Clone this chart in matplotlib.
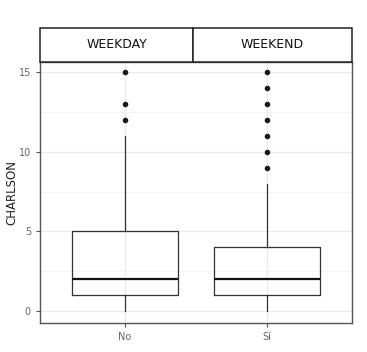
import matplotlib
matplotlib.use("Agg")
import matplotlib.pyplot as plt
from matplotlib.patches import Rectangle

# data
groups = ["No", "Sí"]
header_labels = ["WEEKDAY", "WEEKEND"]
whis_lo = [0, 0]
q1 = [1, 1]
medians = [2, 2]
q3 = [5, 4]
whis_hi = [11, 8]
outliers = [[12, 13, 15], [9, 10, 11, 12, 13, 14, 15]]

W, H = 367, 352
fig = plt.figure(figsize=(W / 100, H / 100), dpi=100)

# main panel
ax = fig.add_axes([40 / W, (H - 323) / H, 312 / W, (323 - 62) / H])
stats = []
for i, g in enumerate(groups):
    stats.append(dict(label=g, whislo=whis_lo[i], q1=q1[i], med=medians[i],
                      q3=q3[i], whishi=whis_hi[i], fliers=outliers[i]))

ax.bxp(stats, positions=[1, 2], widths=0.75, showcaps=False,
       boxprops=dict(color="#333333", linewidth=0.9),
       whiskerprops=dict(color="#333333", linewidth=0.9),
       medianprops=dict(color="#111111", linewidth=1.6),
       flierprops=dict(marker="o", markerfacecolor="#1a1a1a",
                       markeredgecolor="#1a1a1a", markersize=3.0))

ax.set_xlim(0.4, 2.6)
ax.set_ylim(-0.75, 15.63)
ax.set_yticks([0, 5, 10, 15])
ax.set_yticks([2.5, 7.5, 12.5], minor=True)
ax.grid(True, which="major", color="#ebebeb", linewidth=0.9)
ax.grid(True, which="minor", axis="y", color="#f3f3f3", linewidth=0.6)
ax.set_axisbelow(True)
for s in ax.spines.values():
    s.set_color("#555555")
    s.set_linewidth(1.0)
ax.tick_params(axis="both", which="major", colors="#555555", labelcolor="#666666",
               labelsize=7, length=3, width=0.8)
ax.tick_params(axis="y", which="minor", length=0)
ax.set_ylabel("CHARLSON", fontsize=8.5, color="#222222")
ax.yaxis.set_label_coords(-22 / 312, 0.5)

# header strip with two cells
hx = fig.add_axes([40 / W, (H - 62) / H, 312 / W, (62 - 28) / H])
hx.set_xlim(0, 312)
hx.set_ylim(0, 1)
hx.axis("off")
split = 153
hx.add_patch(Rectangle((0, 0), split, 1, facecolor="white",
                       edgecolor="#222222", linewidth=1.1, clip_on=False))
hx.add_patch(Rectangle((split, 0), 312 - split, 1, facecolor="white",
                       edgecolor="#222222", linewidth=1.1, clip_on=False))
hx.text(split / 2, 0.5, header_labels[0], ha="center", va="center",
        fontsize=9, color="#111111")
hx.text(split + (312 - split) / 2, 0.5, header_labels[1], ha="center",
        va="center", fontsize=9, color="#111111")

fig.savefig("out.png", dpi=100)
